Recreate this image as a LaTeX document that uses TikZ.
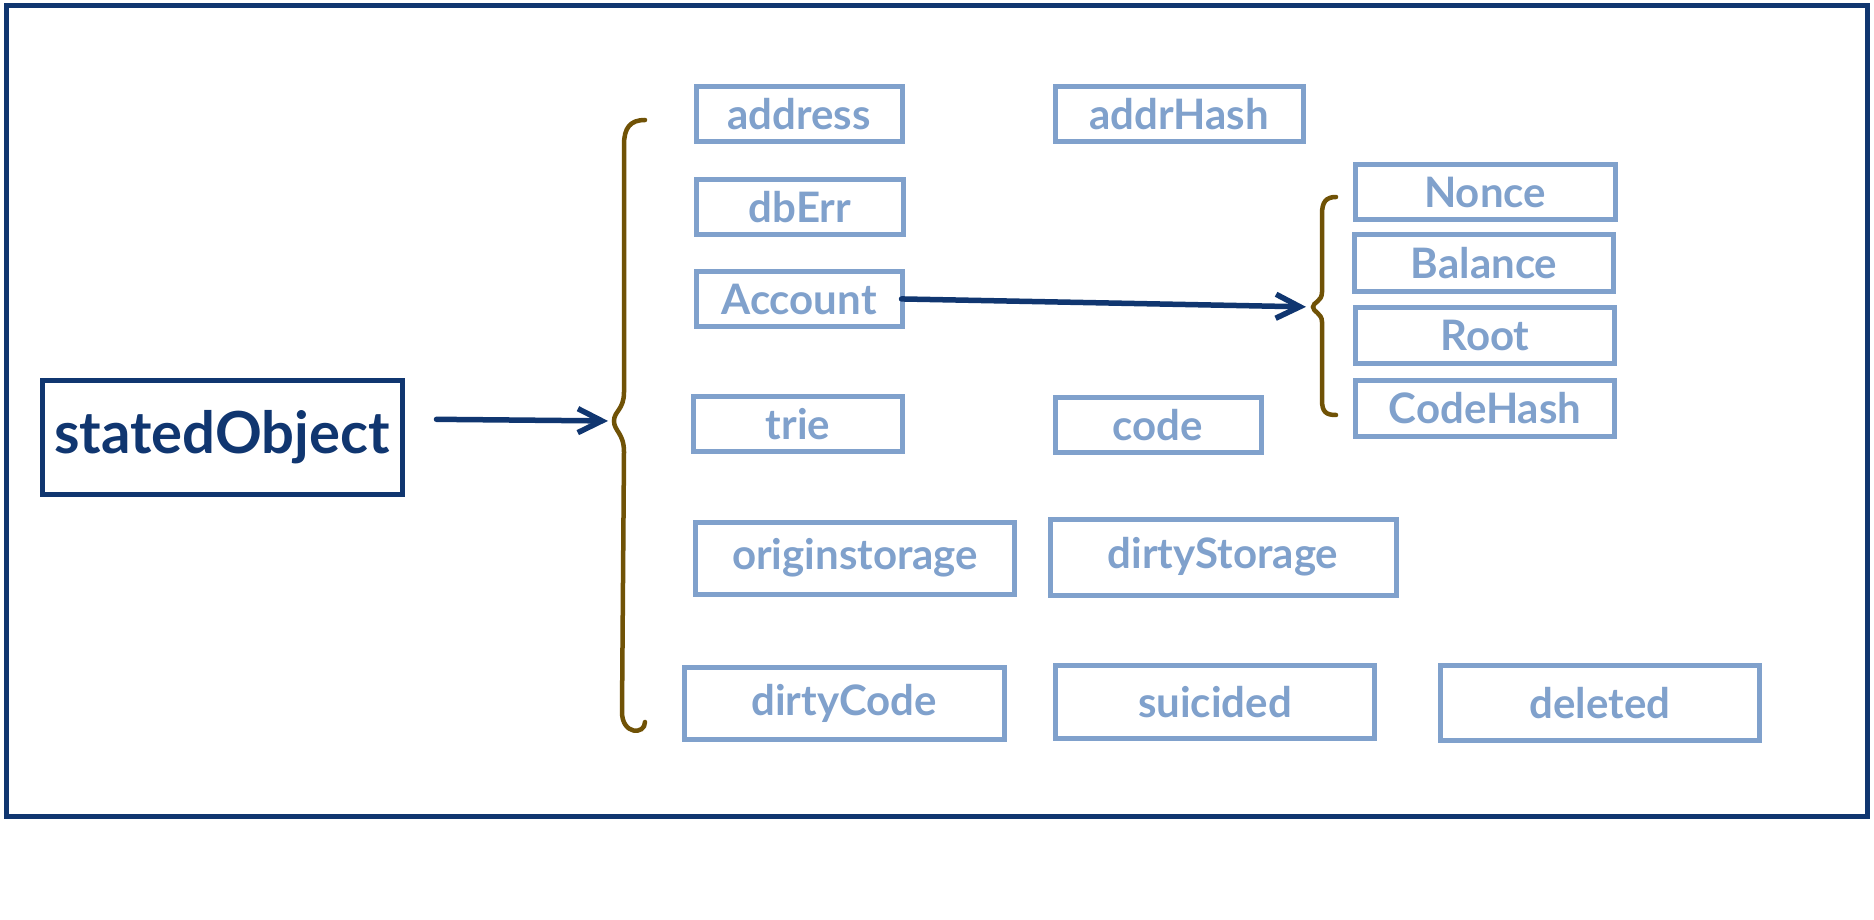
\documentclass[tikz,border=0pt]{standalone}
\usepackage{fontspec}
\setmainfont{Lato}
\usetikzlibrary{arrows.meta}
\definecolor{frameblue}{RGB}{16,54,112}
\definecolor{fieldblue}{RGB}{128,161,204}
\definecolor{bracebrown}{RGB}{112,82,6}
\tikzset{
  field/.style={draw=fieldblue,text=fieldblue,line width=5pt,inner sep=0pt,minimum height=55pt,font=\fontsize{42}{44}\selectfont\bfseries},
  mainbox/.style={draw=frameblue,text=frameblue,line width=5pt,inner sep=0pt,font=\fontsize{58}{62}\selectfont\bfseries},
  brace/.style={draw=bracebrown,line width=4.5pt,line cap=round},
  link/.style={draw=frameblue,line width=5.5pt,line cap=round,-{Straight Barb[length=24pt,width=24pt,line width=5.5pt]}}
}
\begin{document}
\begin{tikzpicture}[x=1pt,y=-1pt]
            \useasboundingbox[fill=white] (0,0) rectangle (1874,920);
            \draw[frameblue,line width=5pt] (6,6) rectangle (1867,816);
            \node[mainbox,minimum width=360pt,minimum height=114pt] (so) at (222,437) {statedObject};
            \node[field,minimum width=206pt] (address) at (799,114) {address};
            \node[field,minimum width=248pt] (addrhash) at (1179,114) {addrHash};
            \node[field,minimum width=207pt] (dberr) at (800,207) {dbErr};
            \node[field,minimum width=206pt] (account) at (799,299) {Account};
            \node[field,minimum width=209pt] (trie) at (798,424) {trie};
            \node[field,minimum width=206pt] (code) at (1158,425) {code};
            \node[field,minimum width=319pt,minimum height=72pt] (originstorage) at (855,558) {originstorage};
            \node[field,minimum width=346pt,minimum height=76pt] (dirtystorage) at (1223,557) {dirtyStorage};
            \node[field,minimum width=320pt,minimum height=72pt] (dirtycode) at (844,703) {dirtyCode};
            \node[field,minimum width=319pt,minimum height=73pt] (suicided) at (1215,702) {suicided};
            \node[field,minimum width=319pt,minimum height=75pt] (deleted) at (1600,703) {deleted};
            \node[field,minimum width=260pt] (nonce) at (1485,192) {Nonce};
            \node[field,minimum width=259pt,minimum height=57pt] (balance) at (1484,263) {Balance};
            \node[field,minimum width=259pt,minimum height=56pt] (root) at (1485,335) {Root};
            \node[field,minimum width=259pt,minimum height=56pt] (codehash) at (1485,408) {CodeHash};
            \draw[brace] (645,120) .. controls (630,120) and (624,128) .. (624,145) -- (624,392) .. controls (624,410) and (614,411) .. (614,421) coordinate (bigtip) .. controls (614,431) and (624,433) .. (624,452) -- (622,712) .. controls (622,735) and (645,735) .. (645,722);
            \draw[brace] (1336,197) .. controls (1326,197) and (1322,202) .. (1322,214) -- (1322,292) .. controls (1322,302) and (1313,302) .. (1313,307) coordinate (smalltip) .. controls (1313,312) and (1322,313) .. (1322,322) -- (1322,400) .. controls (1322,412) and (1326,415) .. (1336,415);
            \draw[link,shorten <=32pt,shorten >=6pt] ([yshift=18pt]so.east) -- (bigtip);
            \draw[link,shorten <=-3pt,shorten >=7pt] (account.east) -- (smalltip);
        \end{tikzpicture}
\end{document}
